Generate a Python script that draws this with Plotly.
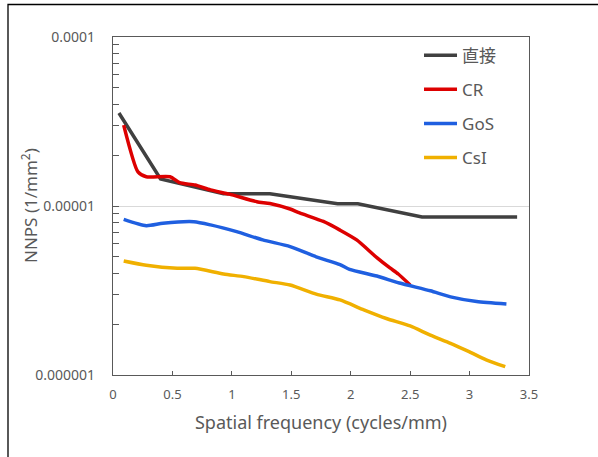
import plotly.graph_objects as go

# ---- data ----
direct_x = [0.05, 0.40, 0.93, 1.32, 1.89, 2.06, 2.60, 3.40]
direct_y = [3.55e-5, 1.445e-5, 1.18e-5, 1.18e-5, 1.03e-5, 1.03e-5, 8.6e-6, 8.6e-6]

cr_x = [0.09, 0.21, 0.28, 0.48, 0.56, 0.69, 0.82, 0.98, 1.21, 1.32, 1.49, 1.57, 1.77, 1.91, 2.05, 2.22, 2.33, 2.40, 2.50]
cr_y = [3.01e-5, 1.59e-5, 1.49e-5, 1.49e-5, 1.375e-5, 1.33e-5, 1.245e-5, 1.175e-5, 1.06e-5, 1.035e-5,
        9.6e-6, 9.1e-6, 8.1e-6, 7.2e-6, 6.3e-6, 4.95e-6, 4.3e-6, 3.96e-6, 3.41e-6]

gos_x = [0.09, 0.28, 0.42, 0.68, 0.82, 1.04, 1.26, 1.49, 1.71, 1.91, 1.99, 2.22, 2.41, 2.67, 2.84, 3.06, 3.31]
gos_y = [8.33e-6, 7.64e-6, 7.9e-6, 8.07e-6, 7.73e-6, 7.05e-6, 6.3e-6, 5.75e-6, 5.0e-6, 4.5e-6, 4.22e-6,
         3.85e-6, 3.5e-6, 3.15e-6, 2.9e-6, 2.72e-6, 2.63e-6]

csi_x = [0.09, 0.28, 0.54, 0.69, 0.93, 1.10, 1.32, 1.49, 1.71, 1.91, 2.11, 2.30, 2.50, 2.67, 2.84, 3.00, 3.14, 3.30]
csi_y = [4.73e-6, 4.46e-6, 4.28e-6, 4.28e-6, 3.96e-6, 3.82e-6, 3.57e-6, 3.41e-6, 3.01e-6, 2.78e-6,
         2.43e-6, 2.16e-6, 1.95e-6, 1.72e-6, 1.54e-6, 1.37e-6, 1.23e-6, 1.12e-6]

series_names = ["直接", "CR", "GoS", "CsI"]
y_tickvals = [1e-6, 1e-5, 1e-4]
y_ticktext = ["0.000001", "0.00001", "0.0001"]

FONT = "Noto Sans, Noto Sans CJK JP"
GRAY = "#595959"

fig = go.Figure()
fig.add_trace(go.Scatter(x=direct_x, y=direct_y, name=series_names[0], mode="lines",
                         line=dict(color="#404040", width=3.5), legendgroup="a"))
fig.add_trace(go.Scatter(x=cr_x, y=cr_y, name=series_names[1], mode="lines",
                         line=dict(color="#dd0000", width=3.5, shape="spline", smoothing=0.6), legendgroup="b"))
fig.add_trace(go.Scatter(x=gos_x, y=gos_y, name=series_names[2], mode="lines",
                         line=dict(color="#1f5fe0", width=3.5, shape="spline", smoothing=0.6), legendgroup="c"))
fig.add_trace(go.Scatter(x=csi_x, y=csi_y, name=series_names[3], mode="lines",
                         line=dict(color="#f0b000", width=3.5, shape="spline", smoothing=0.6), legendgroup="d"))

fig.update_layout(
    width=598, height=457,
    margin=dict(l=113, r=69, t=37, b=82),
    paper_bgcolor="white", plot_bgcolor="white",
    font=dict(family=FONT, color=GRAY, size=13),
    showlegend=True,
    legend=dict(x=0.7356, y=0.998, xanchor="left", yanchor="top",
                bgcolor="rgba(0,0,0,0)", font=dict(size=17, color=GRAY, family=FONT),
                tracegroupgap=9, itemwidth=33),
    xaxis=dict(range=[0, 3.5], dtick=0.5, tick0=0, showgrid=False, zeroline=False,
               showline=True, linecolor=GRAY, linewidth=1.2, mirror=True,
               ticks="inside", ticklen=4, tickcolor=GRAY, ticklabelstandoff=7,
               tickfont=dict(size=13, color=GRAY),
               title=dict(text="Spatial frequency (cycles/mm)", font=dict(size=18, color=GRAY), standoff=14)),
    yaxis=dict(type="log", range=[-6, -4], tickmode="array", tickvals=y_tickvals, ticktext=y_ticktext,
               showgrid=True, gridcolor="#d9d9d9", gridwidth=1, zeroline=False,
               showline=True, linecolor=GRAY, linewidth=1.2, mirror=True,
               ticks="inside", ticklen=6, tickcolor=GRAY, ticklabelstandoff=14,
               tickfont=dict(size=14, color=GRAY),
               minor=dict(ticks="inside", ticklen=6, tickcolor=GRAY, dtick="D1", showgrid=False)),
)

# y-axis title as a rotated annotation placed like the reference
fig.add_annotation(text="NNPS (1/mm<sup>2</sup>)", xref="paper", yref="paper",
                   x=(29 - 113) / 416, y=0.5, xanchor="center", yanchor="middle",
                   textangle=-90, showarrow=False, font=dict(size=17, color=GRAY, family=FONT))

# outer frame of the chart area
fig.add_shape(type="rect", xref="paper", yref="paper",
              x0=(8 - 113) / 416, x1=(605 - 113) / 416,
              y0=-(465 - 375) / 338, y1=1 + (37 - 4.5) / 338,
              line=dict(color="black", width=1.3), fillcolor="rgba(0,0,0,0)", layer="above")

fig.write_html("out.html", config={"displayModeBar": False},
               post_script="document.body.style.margin='0';")
